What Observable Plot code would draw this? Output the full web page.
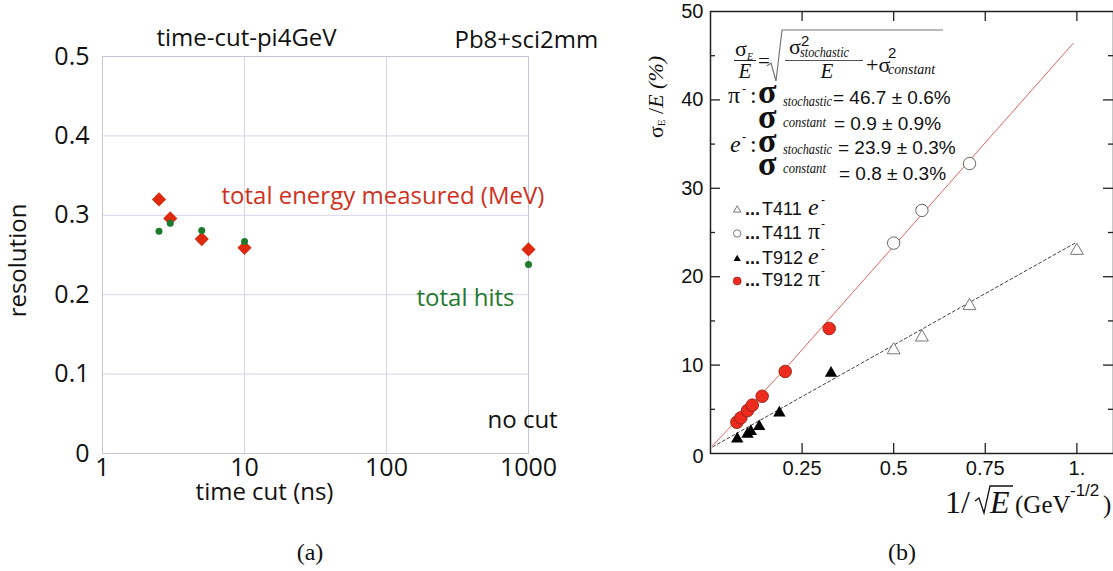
<!DOCTYPE html>
<html><head><meta charset="utf-8">
<script src="https://cdn.jsdelivr.net/npm/d3@7"></script>
<script src="https://cdn.jsdelivr.net/npm/@observablehq/plot@0.6"></script>
<style>
html,body{margin:0;padding:0;background:#fff;}
#root{position:relative;width:1113px;height:571px;overflow:hidden;background:#fff;}
#pa{position:absolute;left:0;top:0;}
#pb{position:absolute;left:600px;top:0;}
.cap{position:absolute;top:540px;font-family:"Liberation Serif",serif;font-size:24px;line-height:24px;color:#111;}
</style></head><body>
<div id="root"><div id="pa"></div><div id="pb"></div>
<div class="cap" style="left:260px;width:100px;text-align:center">(a)</div>
<div class="cap" style="left:888px">(b)</div></div>
<script>
// ---------- Panel (a) data ----------
const timeCut = [2.5, 3, 5, 10, 1000];
const resEnergy = [0.320, 0.296, 0.270, 0.259, 0.257];
const resHits = [0.280, 0.290, 0.281, 0.267, 0.238];
const xTicksA = [1, 10, 100, 1000];
const yTicksA = [0, 0.1, 0.2, 0.3, 0.4, 0.5];

// ---------- Panel (b) data ----------
const t912piX = [0.072, 0.083, 0.101, 0.114, 0.141, 0.204, 0.324];
const t912piY = [3.54, 4.04, 4.86, 5.47, 6.48, 9.28, 14.14];
const t912eX = [0.073, 0.101, 0.110, 0.133, 0.188, 0.329];
const t912eY = [1.65, 2.2, 2.5, 3.05, 4.6, 9.1];
const t411eX = [0.5, 0.577, 0.707, 1.0];
const t411eY = [11.7, 13.15, 16.7, 22.95];
const t411piX = [0.5, 0.577, 0.707];
const t411piY = [23.8, 27.5, 32.8];
const piFitX = [0.006, 0.2, 0.99];
const piFitY = [0.9, 9.4, 46.4];
const eFitX = [0.006, 0.995];
const eFitY = [0.75, 23.8];
const yMajorB = [10, 20, 30, 40];
const yMinorB = [5, 15, 25, 35, 45];
const xMajorB = [0.25, 0.5, 0.75, 1];
const xTickLabelsB = ["0.25", "0.5", "0.75", "1."];

// ---------- Panel (a) ----------
const A = {W: 600, H: 520, mL: 102, mR: 72, mT: 56, mB: 67};
const sansA = "Open Sans, sans-serif";
function labA(str, ax, ay, o = {}) {
  return Plot.text([str], {text: d => d, frameAnchor: "top-left", dx: ax - A.mL, dy: ay - A.mT,
    lineAnchor: "bottom", textAnchor: o.anchor || "start", fontSize: o.size || 24,
    fill: o.fill || "#111", rotate: o.rotate || 0});
}
const plotA = Plot.plot({
  width: A.W, height: A.H, marginLeft: A.mL, marginRight: A.mR, marginTop: A.mT, marginBottom: A.mB,
  x: {type: "log", domain: [1, 1000]},
  y: {domain: [0, 0.5]},
  style: {fontFamily: sansA, color: "#111", background: "transparent"},
  marks: [
    Plot.gridX([10, 100], {stroke: "#d6d6e6", strokeOpacity: 1}),
    Plot.gridY([0.1, 0.2, 0.3, 0.4], {stroke: "#d6d6e6", strokeOpacity: 1}),
    Plot.frame({stroke: "#c6c6da"}),
    Plot.axisX({ticks: xTicksA, tickSize: 0, tickPadding: 5, fontSize: 25, tickFormat: d => String(d), label: null}),
    Plot.axisY({ticks: yTicksA, tickSize: 0, tickPadding: 13, fontSize: 25, tickFormat: d => d === 0 ? "0" : d.toFixed(1), label: null}),
    Plot.dot(timeCut, {x: timeCut, y: resEnergy, symbol: "diamond2", r: 6.4, fill: "#dd2a0e"}),
    Plot.dot(timeCut, {x: timeCut, y: resHits, r: 3.5, fill: "#1d7a2c"}),
    labA("time-cut-pi4GeV", 246, 45, {anchor: "middle"}),
    labA("Pb8+sci2mm", 454, 47),
    labA("total energy measured (MeV)", 221, 203, {fill: "#d0301c"}),
    labA("total hits", 416, 305, {fill: "#1f7a30"}),
    labA("no cut", 487, 427),
    labA("time cut (ns)", 264, 499, {anchor: "middle"}),
    labA("resolution", 25, 260, {anchor: "middle", rotate: -90})
  ]
});
document.getElementById("pa").appendChild(plotA);

// ---------- Panel (b) ----------
const B = {W: 513, H: 520, mL: 110, mR: 0, mT: 11, mB: 67};
const fw = B.W - B.mL - B.mR, fh = B.H - B.mT - B.mB;
const sansB = "Liberation Sans, Arial, sans-serif";
const serif = "Liberation Serif, Times New Roman, serif";
function legDot(ax, ay, o) {
  return Plot.dot([0], {frameAnchor: "top-left", dx: ax - B.mL, dy: ay - B.mT, ...o});
}
const plotB = Plot.plot({
  width: B.W, height: B.H, marginLeft: B.mL, marginRight: B.mR, marginTop: B.mT, marginBottom: B.mB,
  x: {domain: [0, 1.1]},
  y: {domain: [0, 50]},
  style: {fontFamily: sansB, color: "#111", background: "transparent"},
  marks: [
    Plot.line(piFitX, {x: piFitX, y: piFitY, stroke: "#e8625a", strokeWidth: 1}),
    Plot.line(eFitX, {x: eFitX, y: eFitY, stroke: "#444", strokeWidth: 1, strokeDasharray: "3,2.5"}),
    Plot.dot(t411eX, {x: t411eX, y: t411eY, symbol: "triangle", r: 4.8, fill: "white", stroke: "#777", strokeWidth: 1}),
    Plot.dot(t411piX, {x: t411piX, y: t411piY, r: 6.2, fill: "white", stroke: "#666", strokeWidth: 1}),
    Plot.dot(t912eX, {x: t912eX, y: t912eY, symbol: "triangle", r: 4.6, fill: "black"}),
    Plot.dot(t912piX, {x: t912piX, y: t912piY, r: 6.3, fill: "#ee2b1f", stroke: "#8b1a10", strokeWidth: 0.8}),
    Plot.frame({stroke: "#222", strokeWidth: 1.5}),
    Plot.tickY(yMajorB, {y: d => d, insetRight: fw - 10, stroke: "#222", strokeWidth: 1.3}),
    Plot.tickY(yMajorB, {y: d => d, insetLeft: fw - 10, stroke: "#222", strokeWidth: 1.3}),
    Plot.tickY(yMinorB, {y: d => d, insetRight: fw - 5, stroke: "#222", strokeWidth: 1.3}),
    Plot.tickY(yMinorB, {y: d => d, insetLeft: fw - 5, stroke: "#222", strokeWidth: 1.3}),
    Plot.tickX(xMajorB, {x: d => d, insetTop: fh - 10, stroke: "#222", strokeWidth: 1.3}),
    Plot.tickX(xMajorB, {x: d => d, insetBottom: fh - 10, stroke: "#222", strokeWidth: 1.3}),
    Plot.axisY({ticks: [10, 20, 30, 40, 50], tickSize: 0, tickPadding: 7, fontSize: 20, label: null, tickFormat: d => String(d)}),
    Plot.axisX({ticks: xMajorB, tickSize: 0, tickPadding: 7, fontSize: 20, label: null, tickFormat: (d, i) => xTickLabelsB[i]}),
    Plot.text(["0"], {text: d => d, frameAnchor: "bottom-left", dx: -7, dy: 9, textAnchor: "end", fontSize: 20}),
    legDot(136.7, 209.5, {symbol: "triangle", r: 2.7, fill: "white", stroke: "#777", strokeWidth: 1}),
    legDot(136.7, 233, {r: 3.7, fill: "white", stroke: "#777", strokeWidth: 1}),
    legDot(136.7, 258.5, {symbol: "triangle", r: 2.7, fill: "black"}),
    legDot(136.7, 280.5, {r: 4, fill: "#ee2b1f", stroke: "#8b1a10", strokeWidth: 0.6})
  ]
});
document.getElementById("pb").appendChild(plotB);

// Rich text annotations for panel (b)
const g = d3.select(plotB).append("g").attr("fill", "#111");
function t(x, y, str, o = {}) {
  const e = g.append("text").attr("x", x).attr("y", y).text(str)
    .attr("font-family", o.family || serif).attr("font-size", o.size || 22)
    .attr("font-style", o.italic ? "italic" : null)
    .attr("font-weight", o.bold ? "bold" : null)
    .attr("text-anchor", o.anchor || "start");
  if (o.len) e.attr("textLength", o.len).attr("lengthAdjust", "spacingAndGlyphs");
  return e;
}
// formula
t(135, 56, "σ");
t(147, 60, "E", {size: 10, italic: true});
g.append("line").attr("x1", 134).attr("x2", 156).attr("y1", 60.5).attr("y2", 60.5).attr("stroke", "#222");
t(145, 78, "E", {italic: true, size: 21, anchor: "middle"});
t(158, 68, "=", {size: 21});
g.append("path").attr("d", "M167,66 L171,63 L176,81 L182,30 L343,30").attr("fill", "none").attr("stroke", "#777").attr("stroke-width", 1.2);
t(189, 54, "σ");
t(201, 46, "2", {family: sansB, size: 15});
t(200, 57, "stochastic", {italic: true, size: 15, len: 49});
g.append("line").attr("x1", 185).attr("x2", 263).attr("y1", 60.5).attr("y2", 60.5).attr("stroke", "#555");
t(227, 78, "E", {italic: true, size: 21, anchor: "middle"});
t(266, 72, "+σ");
t(288, 58, "2", {family: sansB, size: 15});
t(288, 74, "constant", {italic: true, size: 15, len: 47});
// fit results
t(128, 103, "π", {size: 24});
t(142, 93, "-", {family: sansB, size: 13});
t(150, 103, ":", {size: 24});
t(158, 103, "σ", {size: 34, bold: true});
t(183, 106, "stochastic", {italic: true, size: 15, len: 49});
t(233, 104, "= 46.7 ± 0.6%", {family: sansB, size: 19});
t(158, 128, "σ", {size: 34, bold: true});
t(183, 127, "constant", {italic: true, size: 15, len: 43});
t(234, 130, "= 0.9 ± 0.9%", {family: sansB, size: 19});
t(130, 152, "e", {size: 24, italic: true});
t(142, 141, "-", {family: sansB, size: 13});
t(150, 152, ":", {size: 24});
t(158, 152, "σ", {size: 34, bold: true});
t(183, 154, "stochastic", {italic: true, size: 15, len: 49});
t(238, 154, "= 23.9 ± 0.3%", {family: sansB, size: 19});
t(158, 175, "σ", {size: 34, bold: true});
t(183, 173, "constant", {italic: true, size: 15, len: 43});
t(239, 180, "= 0.8 ± 0.3%", {family: sansB, size: 19});
// legend text
const legRows = [["T411", "e", 215], ["T411", "π", 238.5], ["T912", "e", 263.5], ["T912", "π", 286]];
legRows.forEach(([nm, p, y]) => {
  t(145, y, "...", {family: sansB, size: 18, bold: true});
  t(162, y, nm, {family: sansB, size: 18});
  t(208, y, p, {size: 24, italic: p === "e"});
  t(221, y - 11, "-", {family: sansB, size: 12});
});
// y-axis label
const yl = g.append("text").attr("transform", "translate(63,97) rotate(-90)").attr("font-family", serif).attr("font-size", 22);
yl.append("tspan").text("σ");
yl.append("tspan").text("E").attr("font-size", 11).attr("dy", 2);
yl.append("tspan").text(" /").attr("dy", -2);
yl.append("tspan").text("E").attr("font-style", "italic");
yl.append("tspan").text(" (%)").attr("font-style", "italic");
// x-axis label
t(345, 513, "1/", {size: 32});
g.append("path").attr("d", "M375,501 L379,498 L384,513 L390,486 L413,486").attr("fill", "none").attr("stroke", "#111").attr("stroke-width", 1.3);
t(390, 513, "E", {size: 32, italic: true});
t(415, 513, "(GeV", {size: 25});
t(470, 496, "-1/2", {family: sansB, size: 17});
t(503, 513, ")", {size: 25});
</script>
</body></html>
